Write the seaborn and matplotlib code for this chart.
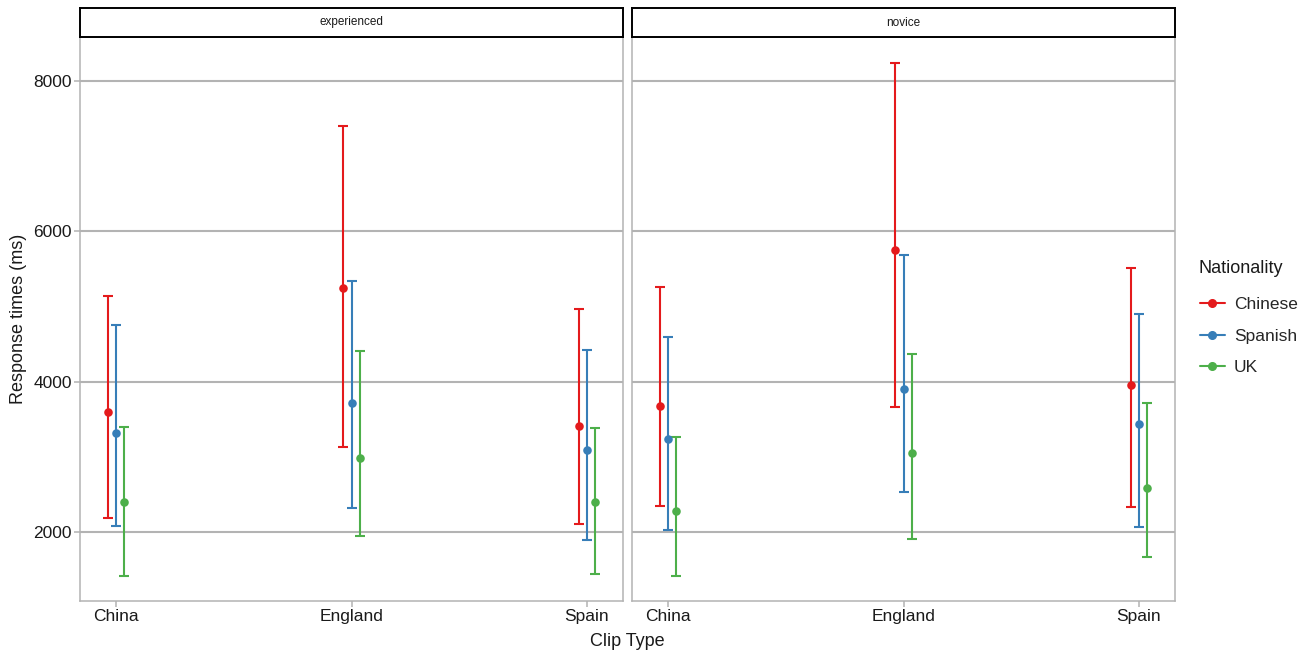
import numpy as np
import pandas as pd
import matplotlib
matplotlib.use("Agg")
import matplotlib.pyplot as plt
import seaborn as sns
from matplotlib.lines import Line2D

sns.set_theme(style="white")
plt.rcParams['font.family'] = ['Liberation Sans', 'DejaVu Sans']

clip_types = ["China", "England", "Spain"]
nationalities = ["Chinese", "Spanish", "UK"]
groups = ["experienced", "novice"]
palette = ["#E41A1C", "#377EB8", "#4DAF4A"]

# experienced: mean, lower, upper per nationality, per clip type
exp_chinese_mean = [3590, 5250, 3405]
exp_chinese_lo = [2190, 3130, 2105]
exp_chinese_hi = [5135, 7395, 4965]
exp_spanish_mean = [3315, 3715, 3090]
exp_spanish_lo = [2080, 2315, 1890]
exp_spanish_hi = [4750, 5335, 4420]
exp_uk_mean = [2400, 2985, 2395]
exp_uk_lo = [1415, 1945, 1440]
exp_uk_hi = [3390, 4405, 3385]

nov_chinese_mean = [3670, 5745, 3950]
nov_chinese_lo = [2345, 3660, 2330]
nov_chinese_hi = [5255, 8230, 5510]
nov_spanish_mean = [3235, 3895, 3435]
nov_spanish_lo = [2025, 2530, 2065]
nov_spanish_hi = [4595, 5685, 4895]
nov_uk_mean = [2275, 3045, 2580]
nov_uk_lo = [1415, 1905, 1665]
nov_uk_hi = [3260, 4365, 3715]

rows = []
data = {
    "experienced": [(exp_chinese_mean, exp_chinese_lo, exp_chinese_hi),
                    (exp_spanish_mean, exp_spanish_lo, exp_spanish_hi),
                    (exp_uk_mean, exp_uk_lo, exp_uk_hi)],
    "novice": [(nov_chinese_mean, nov_chinese_lo, nov_chinese_hi),
               (nov_spanish_mean, nov_spanish_lo, nov_spanish_hi),
               (nov_uk_mean, nov_uk_lo, nov_uk_hi)],
}
for g in groups:
    for n, (m, lo, hi) in zip(nationalities, data[g]):
        for c, mv, lv, hv in zip(clip_types, m, lo, hi):
            rows.append(dict(group=g, nat=n, cliptype=c, mean=mv, lo=lv, hi=hv))
df = pd.DataFrame(rows)

fig = plt.figure(figsize=(13.16, 6.52), dpi=100)
W, H = 1316, 652
panels = [(80, 623), (632, 1175)]
top, bottom = 37, 601
dodge = 0.034
border = "#b3b3b3"

axes = []
for (x0, x1), g in zip(panels, groups):
    ax = fig.add_axes([x0 / W, 1 - bottom / H, (x1 - x0) / W, (bottom - top) / H])
    sax = fig.add_axes([x0 / W, 1 - top / H, (x1 - x0) / W, 29 / H])
    sax.set_xticks([]); sax.set_yticks([])
    for s in sax.spines.values():
        s.set_color("black"); s.set_linewidth(1.4)
    sax.text(0.5, 0.5, g, ha="center", va="center", fontsize=8.5, color="#1a1a1a",
             transform=sax.transAxes)
    sub = df[df["group"] == g]
    for i, (n, col) in enumerate(zip(nationalities, palette)):
        d = sub[sub["nat"] == n]
        xs = np.array([clip_types.index(c) for c in d["cliptype"]]) + (i - 1) * dodge
        mv = d["mean"].values
        ax.errorbar(xs, mv, yerr=[mv - d["lo"].values, d["hi"].values - mv],
                    fmt="none", ecolor=col, elinewidth=1.5, capsize=3.6, capthick=1.5, zorder=3)
        sns.scatterplot(x=xs, y=mv, color=col, s=38, edgecolor=col,
                        linewidth=0, ax=ax, zorder=4, legend=False)
    ax.set_xlim(-0.153, 2.153)
    ax.set_ylim(1083, 8580)
    ax.set_xticks(range(3))
    ax.set_xticklabels(clip_types, fontsize=12.5, color="#1a1a1a")
    ax.set_yticks([2000, 4000, 6000, 8000])
    ax.yaxis.grid(True, color=border, linewidth=1.5)
    ax.set_axisbelow(True)
    ax.tick_params(axis="both", length=4, color=border, width=1.1, pad=2, left=True, bottom=True)
    for s in ax.spines.values():
        s.set_color(border); s.set_linewidth(1.1)
    ax.set_xlabel(""); ax.set_ylabel("")
    axes.append(ax)

axes[0].set_yticklabels(["2000", "4000", "6000", "8000"], fontsize=12.5, color="#1a1a1a")
axes[1].set_yticklabels([])
axes[1].tick_params(axis="y", left=False)

fig.text(19 / W, 1 - 319 / H, "Response times (ms)", rotation=90, ha="center", va="center",
         fontsize=13, color="#1a1a1a")
fig.text(627 / W, 1 - 641 / H, "Clip Type", ha="center", va="center", fontsize=13, color="#1a1a1a")

fig.text(1199 / W, 1 - 268 / H, "Nationality", ha="left", va="center", fontsize=13, color="#1a1a1a")
handles = [Line2D([0], [0], color=c, marker="o", markersize=5.5, linewidth=1.5) for c in palette]
leg = fig.legend(handles, nationalities, loc="upper left",
                 bbox_to_anchor=(1186 / W, 1 - 283 / H), frameon=False, fontsize=12.5,
                 handlelength=1.45, handletextpad=0.5, labelspacing=0.95, borderpad=0.3)

fig.savefig("out.png", dpi=100)
